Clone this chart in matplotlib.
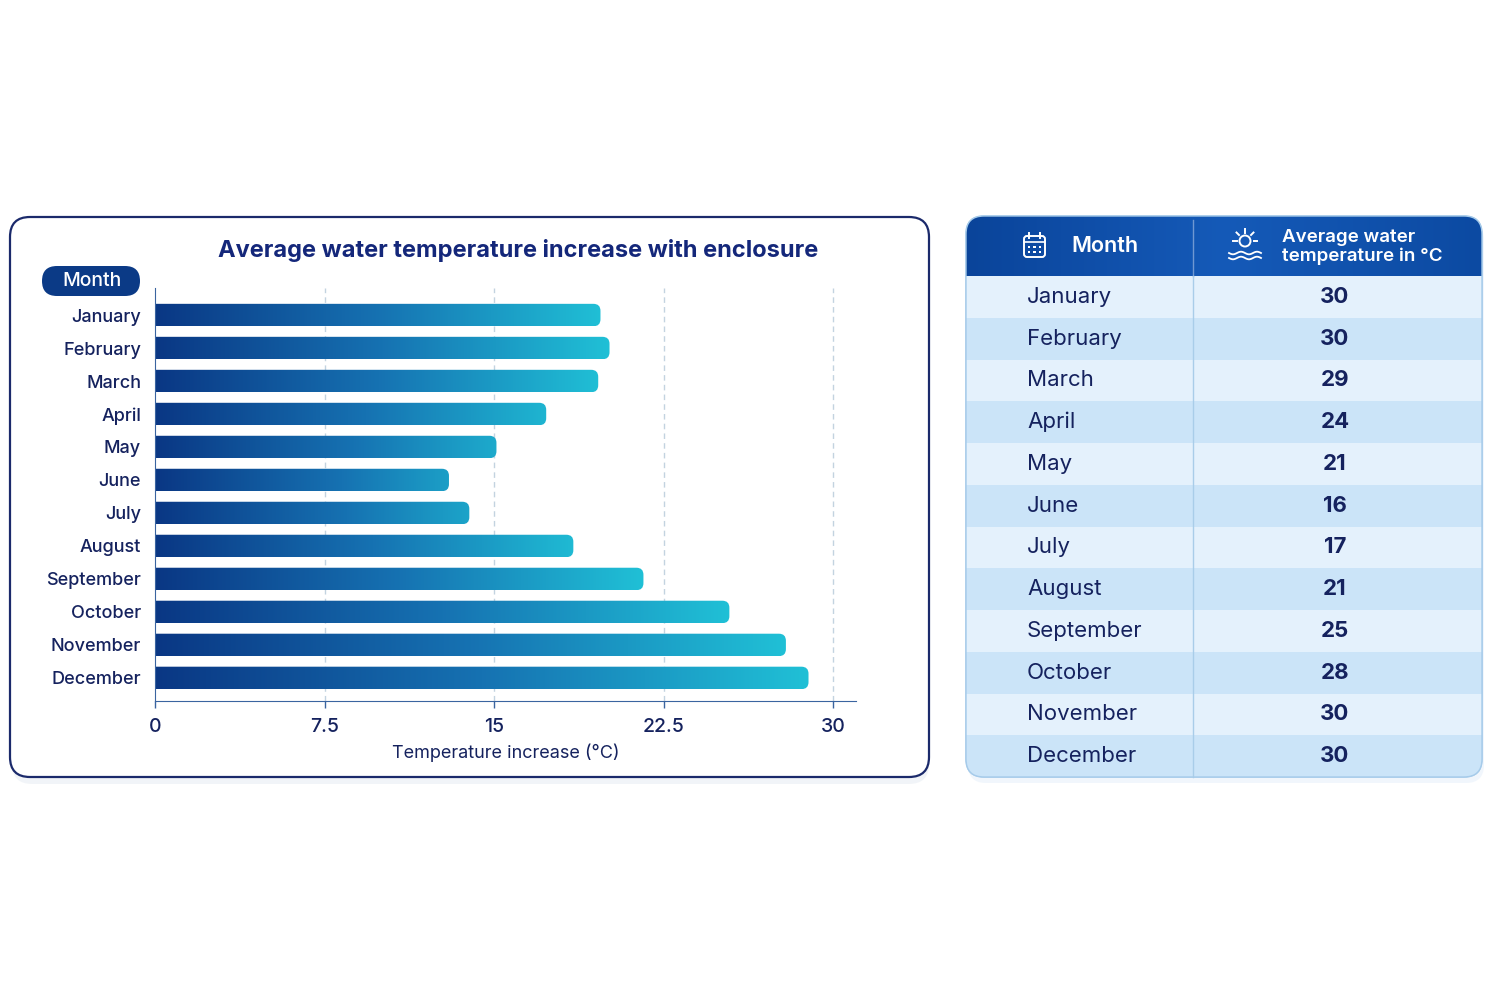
import matplotlib as mpl
mpl.use("Agg")
import matplotlib.pyplot as plt
import numpy as np
from matplotlib.patches import FancyBboxPatch, Rectangle, Circle
from matplotlib.colors import LinearSegmentedColormap

plt.rcParams['font.family'] = ['Inter', 'DejaVu Sans']

months = ['January', 'February', 'March', 'April', 'May', 'June', 'July',
          'August', 'September', 'October', 'November', 'December']
increase = [19.7, 20.1, 19.6, 17.3, 15.1, 13.0, 13.9, 18.5, 21.6, 25.4, 27.9, 28.9]
water_temp = [30, 30, 29, 24, 21, 16, 17, 21, 25, 28, 30, 30]
xticks = [0, 7.5, 15, 22.5, 30]
xtick_labels = ['0', '7.5', '15', '22.5', '30']

navy = '#15225e'
W, H = 1500, 1000

fig = plt.figure(figsize=(15, 10), dpi=100)
fig.patch.set_facecolor('white')

# background layer in pixel coordinates
bg = fig.add_axes([0, 0, 1, 1], zorder=0)
bg.set_xlim(0, W)
bg.set_ylim(H, 0)
bg.axis('off')

# left panel
bg.add_patch(FancyBboxPatch((12, 222), 917, 562, boxstyle="round,pad=0,rounding_size=20",
                            fc='#e9eef4', ec='none', alpha=0.6))
bg.add_patch(FancyBboxPatch((10, 217), 919, 560, boxstyle="round,pad=0,rounding_size=20",
                            fc='white', ec='#1b2a6b', lw=1.6))
bg.text(518, 250, 'Average water temperature increase with enclosure', ha='center', va='center',
        fontsize=17, fontweight='bold', color='#14277a')
bg.add_patch(FancyBboxPatch((42, 266), 98, 30, boxstyle="round,pad=0,rounding_size=15",
                            fc='#0b3a86', ec='none'))
bg.text(92, 281, 'Month', ha='center', va='center', fontsize=14, color='white', fontweight='medium')

# table
tx0, tx1, ty0, ty1 = 966, 1482, 216, 777
hdr = 60
rowh = (ty1 - ty0 - hdr) / len(months)
bg.add_patch(FancyBboxPatch((tx0 + 2, ty0 + 6), tx1 - tx0, ty1 - ty0,
                            boxstyle="round,pad=0,rounding_size=18", fc='#e8f1fa', ec='none', alpha=0.6))
table = FancyBboxPatch((tx0, ty0), tx1 - tx0, ty1 - ty0, boxstyle="round,pad=0,rounding_size=18",
                       fc='#dcedfb', ec='#a6cbea', lw=1.0, zorder=1)
bg.add_patch(table)
hcmap = LinearSegmentedColormap.from_list('hdr', ['#0a449a', '#155ab8', '#0c4aa2'])
im = bg.imshow(np.linspace(0, 1, 256).reshape(1, -1), cmap=hcmap, aspect='auto',
               extent=[tx0, tx1, ty0 + hdr, ty0], zorder=2)
im.set_clip_path(table)
for i, m in enumerate(months):
    y = ty0 + hdr + i * rowh
    r = Rectangle((tx0, y), tx1 - tx0, rowh, fc='#e4f1fc' if i % 2 == 0 else '#cbe4f8',
                  ec='none', zorder=2)
    bg.add_patch(r)
    r.set_clip_path(table)
    bg.text(1027, y + rowh / 2, m, ha='left', va='center', fontsize=16, color=navy, zorder=4)
    bg.text(1335, y + rowh / 2, str(water_temp[i]), ha='center', va='center', fontsize=16,
            fontweight='bold', color=navy, zorder=4)
bg.plot([1193, 1193], [ty0 + 4, ty0 + hdr], color='#6f98d2', lw=1, zorder=3)
bg.plot([1193, 1193], [ty0 + hdr, ty1], color='#a9cde9', lw=1, zorder=3)
bg.add_patch(FancyBboxPatch((tx0, ty0), tx1 - tx0, ty1 - ty0, boxstyle="round,pad=0,rounding_size=18",
                            fc='none', ec='#a6cbea', lw=1.0, zorder=5))

# header texts
bg.text(1071, 246, 'Month', ha='left', va='center', fontsize=15.5, color='white',
        fontweight='semibold', zorder=4)
bg.text(1282, 247, 'Average water\ntemperature in °C', ha='left', va='center', fontsize=13.5,
        color='white', fontweight='semibold', linespacing=1.1, zorder=4)

# calendar icon
bg.add_patch(FancyBboxPatch((1024, 236), 21, 21, boxstyle="round,pad=0,rounding_size=3",
                            fc='none', ec='white', lw=1.4, zorder=4))
bg.plot([1024, 1045], [242, 242], color='white', lw=1.2, zorder=4)
for cx in (1029, 1040):
    bg.plot([cx, cx], [233, 238], color='white', lw=1.4, zorder=4)
for cx in (1029, 1034.5, 1040):
    for cy in (247, 252):
        bg.add_patch(Rectangle((cx - 1.3, cy - 1.3), 2.6, 2.6, fc='white', ec='none', zorder=4))

# sun and waves icon
bg.add_patch(Circle((1245, 241), 5.5, fc='none', ec='white', lw=1.4, zorder=4))
for ang in (90, 135, 45, 180, 0):
    a = np.deg2rad(ang)
    bg.plot([1245 + 8.5 * np.cos(a), 1245 + 12 * np.cos(a)],
            [241 - 8.5 * np.sin(a), 241 - 12 * np.sin(a)], color='white', lw=1.4, zorder=4)
wx = np.linspace(1229, 1261, 60)
for wy in (253, 258):
    bg.plot(wx, wy + 1.3 * np.sin((wx - 1229) / 32 * 4 * np.pi), color='white', lw=1.3, zorder=4)

# bar chart
ax = fig.add_axes([155 / W, 1 - 701 / H, (856 - 155) / W, (701 - 288) / H], zorder=1)
ax.set_facecolor('none')
xmax = 31.0
pxu = (856 - 155) / xmax
bcmap = LinearSegmentedColormap.from_list('bars', ['#0a3784', '#1672b2', '#20c0d6'])
grad = np.linspace(0, 1, 256).reshape(1, -1)
bh = 0.68
aspect = pxu / 33
for i, v in enumerate(increase):
    p = FancyBboxPatch((-0.6, i - bh / 2), v + 0.6, bh,
                       boxstyle="round,pad=0,rounding_size=%.3f" % (7 / pxu), mutation_aspect=aspect,
                       fc='none', ec='none')
    ax.add_patch(p)
    gend = max(v, 0.5 * v + 10)
    g = ax.imshow(grad, cmap=bcmap, aspect='auto', extent=[0, gend, i + bh / 2, i - bh / 2],
                  interpolation='bicubic', zorder=2)
    g.set_clip_path(p)

for xv in xticks[1:]:
    ax.axvline(xv, color='#c3d3e0', lw=1, ls=(0, (4, 3)), zorder=1)

ax.set_xlim(0, xmax)
ax.set_ylim(11.7, -0.82)
ax.set_xticks(xticks)
ax.set_xticklabels(xtick_labels, fontweight='medium')
ax.set_yticks(range(len(months)))
ax.set_yticklabels(months, fontweight='medium')
ax.tick_params(axis='x', length=5, width=1, color='#3a64a0', labelsize=14, labelcolor=navy, pad=7)
ax.tick_params(axis='y', length=0, labelsize=13, labelcolor=navy, pad=10)
for s in ('top', 'right'):
    ax.spines[s].set_visible(False)
ax.spines['left'].set_color('#3a64a0')
ax.spines['bottom'].set_color('#3a64a0')
ax.set_xlabel('Temperature increase (°C)', fontsize=13, color=navy, labelpad=6)

plt.savefig('out.png', dpi=100)
